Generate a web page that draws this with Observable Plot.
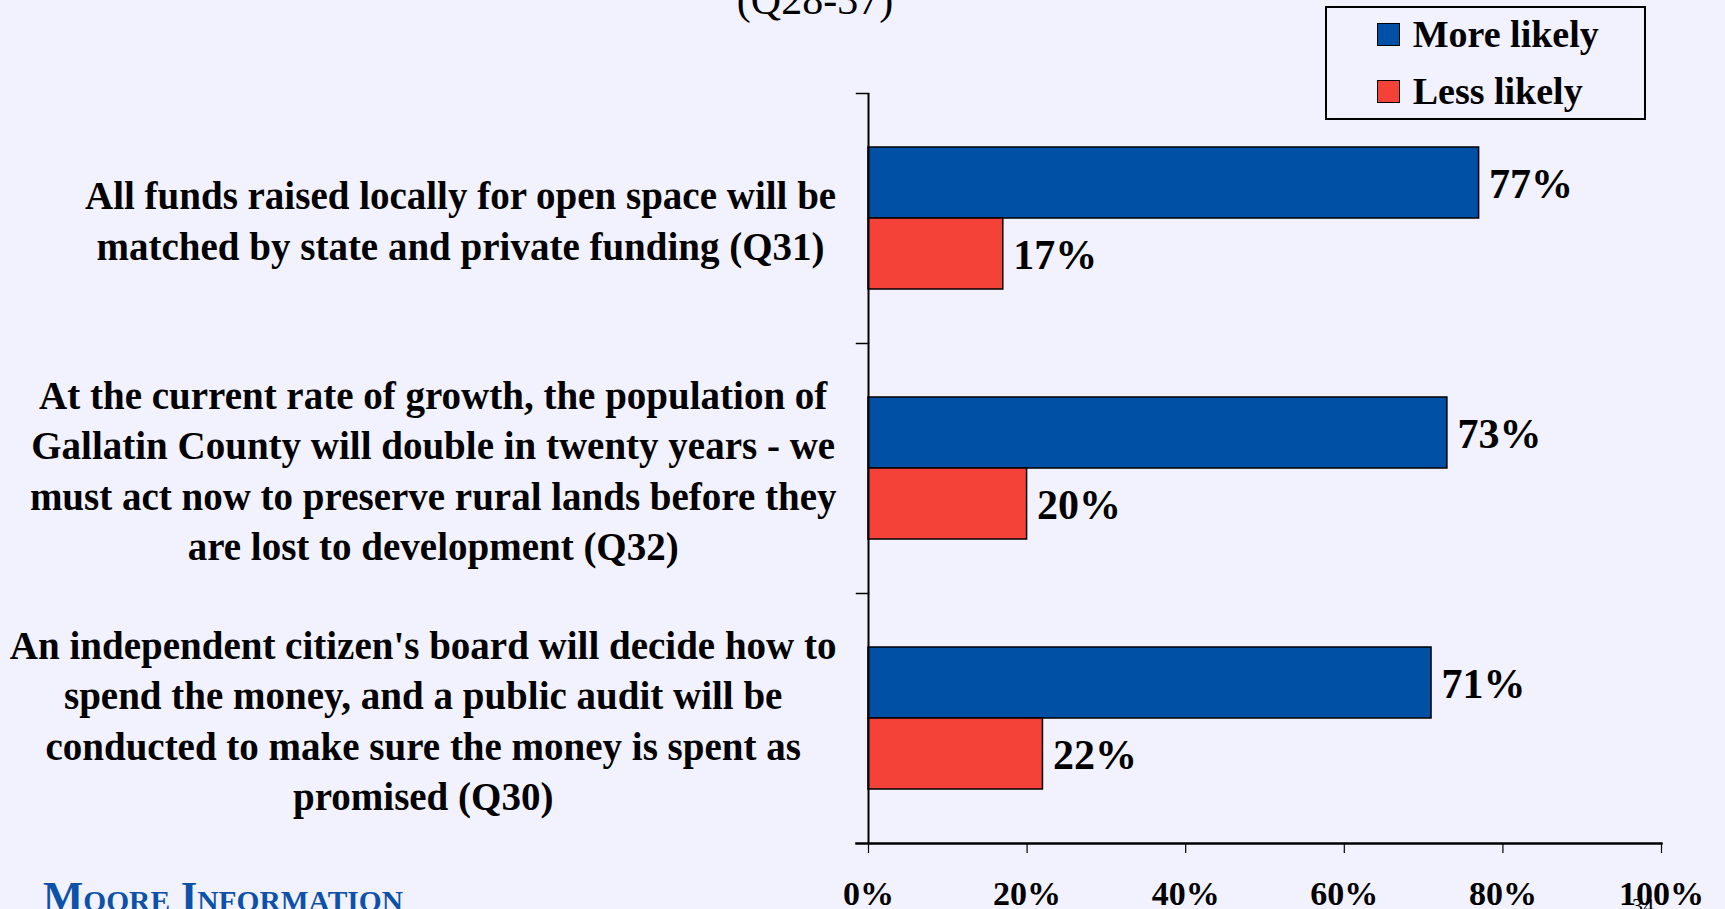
<!DOCTYPE html>
<html><head><meta charset="utf-8">
<script src="https://cdn.jsdelivr.net/npm/d3@7"></script>
<script src="https://cdn.jsdelivr.net/npm/@observablehq/plot@0.6"></script>
<style>
html,body{margin:0;padding:0;background:#F2F2FE;}
#wrap{position:relative;width:1725px;height:909px;overflow:hidden;background:#F2F2FE;font-family:'Liberation Serif','Times New Roman',serif;}
#deco{position:absolute;left:0;top:0;}
#chart{position:absolute;left:0;top:0;}
#legend{position:absolute;left:1325px;top:6px;width:321px;height:114px;box-sizing:border-box;border:2px solid #000;}
.item{position:absolute;left:50px;height:23px;display:flex;align-items:center;}
.sw{width:23px;height:23px;box-sizing:border-box;border:1.5px solid #000;margin-right:12.7px;}
.lab{font-weight:bold;font-size:38px;line-height:23px;color:#000;white-space:nowrap;}
</style></head>
<body><div id="wrap"><svg id="deco" width="1725" height="909"></svg><div id="chart"></div><div id="legend"></div></div>
<script>
// ---- data ----
const categoryLines = [
  ["All funds raised locally for open space will be", "matched by state and private funding (Q31)"],
  ["At the current rate of growth, the population of", "Gallatin County will double in twenty years - we", "must act now to preserve rural lands before they", "are lost to development (Q32)"],
  ["An independent citizen's board will decide how to", "spend the money, and a public audit will be", "conducted to make sure the money is spent as", "promised (Q30)"]
];
const categories = categoryLines.map(l => l.join(" "));
const series = ["More likely", "Less likely"];
const moreLikely = [77, 73, 71];
const lessLikely = [17, 20, 22];
const xTicks = [0, 20, 40, 60, 80, 100];
const colors = ["#0050A6", "#F44238"];
const titleText = "(Q28-37)";
const logoText = "Moore Information";
const pageText = "34";

// ---- build ----
const FONT = "'Liberation Serif','Times New Roman',serif";
const rows = [];
categories.forEach((c, i) => {
  rows.push({category: c, series: series[0], value: moreLikely[i]});
  rows.push({category: c, series: series[1], value: lessLikely[i]});
});

const W = 1725, H = 909, mL = 868, mR = 64, mT = 92, mB = 66;
const plotW = W - mL - mR;

const ctx = document.createElement("canvas").getContext("2d");
ctx.font = `bold 39px ${FONT}`;

const labelMarks = categories.map((c, i) => {
  const lines = categoryLines[i];
  const maxW = d3.max(lines, l => ctx.measureText(l).width);
  return Plot.text([c], {
    fy: d => d, frameAnchor: "left", text: () => lines.join("\n"),
    textAnchor: "middle", lineAnchor: "middle", lineHeight: 1.295,
    dx: -(32 + maxW / 2), fontSize: 39, fontWeight: "bold", fill: "#000"
  });
});

const chart = Plot.plot({
  width: W, height: H, marginLeft: mL, marginRight: mR, marginTop: mT, marginBottom: mB,
  style: {background: "transparent", fontFamily: FONT, color: "#000", overflow: "visible"},
  x: {domain: [0, 100]},
  y: {domain: series, paddingInner: 0, paddingOuter: 0.75, axis: null},
  fy: {domain: categories, padding: 0, axis: null},
  color: {domain: series, range: colors},
  marks: [
    Plot.barX(rows, {x: "value", y: "series", fy: "category", fill: "series", stroke: "#000", strokeWidth: 1.5}),
    Plot.text(rows, {x: "value", y: "series", fy: "category", text: d => d.value + "%", textAnchor: "start", dx: 10, dy: 2, fontSize: 42, fontWeight: "bold", fill: "#000"}),
    Plot.ruleX([0], {stroke: "#000", strokeWidth: 2}),
    Plot.frame({anchor: "top", insetLeft: -12, insetRight: plotW, stroke: "#000", strokeWidth: 1.5}),
    Plot.frame({anchor: "bottom", facetAnchor: "bottom", insetLeft: -12, stroke: "#000", strokeWidth: 2.5}),
    Plot.axisX({ticks: xTicks, tickFormat: d => d + "%", tickSize: 10, tickPadding: 27, fontSize: 34, fontWeight: "bold", label: null, stroke: "#000", strokeWidth: 1.2, fill: "#000"}),
    ...labelMarks
  ]
});
document.getElementById("chart").appendChild(chart);

// legend
const legend = d3.select("#legend");
series.forEach((s, i) => {
  const item = legend.append("div").attr("class", "item").style("top", (15.3 + i * 56.7) + "px");
  item.append("div").attr("class", "sw").style("background", colors[i]);
  item.append("div").attr("class", "lab").text(s);
});

// decorations
const deco = d3.select("#deco");
deco.append("text").attr("x", 815).attr("y", 14).attr("text-anchor", "middle")
  .style("font-family", FONT).style("font-size", "42px").attr("fill", "#000").text(titleText);
deco.append("text").attr("x", 43).attr("y", 911)
  .attr("textLength", 360).attr("lengthAdjust", "spacingAndGlyphs")
  .style("font-family", FONT).style("font-size", "42px").style("font-weight", "bold")
  .style("font-variant", "small-caps").attr("fill", "#0D52A8").text(logoText);
deco.append("text").attr("x", 1632).attr("y", 913)
  .style("font-family", FONT).style("font-size", "22px").attr("fill", "#000").text(pageText);
</script>
</body></html>
